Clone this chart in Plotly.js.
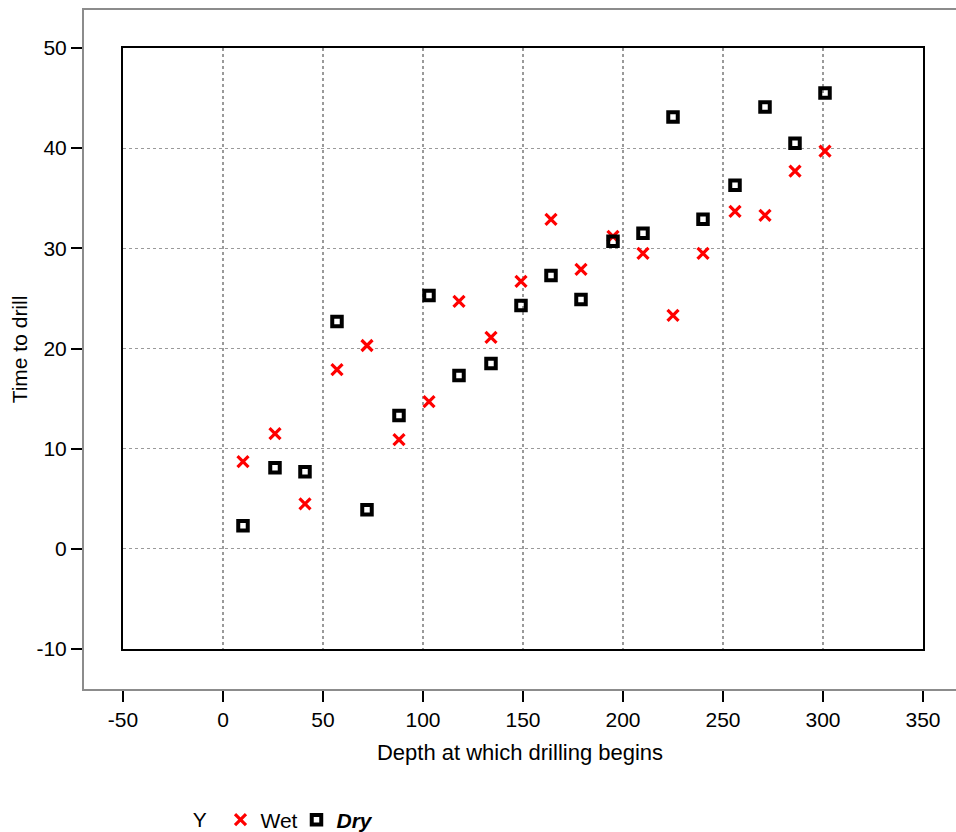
<!DOCTYPE html>
<html>
<head>
<meta charset="utf-8">
<script src="https://cdn.plot.ly/plotly-3.0.1.min.js"></script>
<style>html,body{margin:0;padding:0;background:#fff;}#chart{width:956px;height:832px;}</style>
</head>
<body>
<div id="chart"></div>
<script>
// Depth at which drilling begins
const depth = [10, 26, 41, 57, 72, 88, 103, 118, 134, 149, 164, 179, 195, 210, 225, 240, 256, 271, 286, 301];
// Time to drill (wet)
const wetTime = [8.7, 11.5, 4.5, 17.9, 20.3, 10.9, 14.7, 24.7, 21.1, 26.7, 32.9, 27.9, 31.2, 29.5, 23.3, 29.5, 33.7, 33.3, 37.7, 39.7];
// Time to drill (dry)
const dryTime = [2.3, 8.1, 7.7, 22.7, 3.9, 13.3, 25.3, 17.3, 18.5, 24.3, 27.3, 24.9, 30.7, 31.5, 43.1, 32.9, 36.3, 44.1, 40.5, 45.5];
const xTicks = [-50, 0, 50, 100, 150, 200, 250, 300, 350];
const yTicks = [-10, 0, 10, 20, 30, 40, 50];
const seriesNames = ['Wet', '<b><i>Dry</i></b>'];

const FONT = 'Liberation Sans, Arial, Helvetica, sans-serif';

const traces = [
  {x: [], y: [], xaxis: 'x', yaxis: 'y', type: 'scatter', mode: 'markers', showlegend: false, hoverinfo: 'skip'},
  {
    x: depth, y: wetTime, name: seriesNames[0], type: 'scatter', mode: 'markers',
    xaxis: 'x2', yaxis: 'y2',
    marker: {symbol: 'x-thin', size: 11, color: '#ff0000', line: {color: '#ff0000', width: 3.2}}
  },
  {
    x: depth, y: dryTime, name: seriesNames[1], type: 'scatter', mode: 'markers',
    xaxis: 'x2', yaxis: 'y2',
    marker: {symbol: 'square-open', size: 9.5, color: '#000000', line: {color: '#000000', width: 4}}
  }
];

const layout = {
  width: 956, height: 832,
  margin: {l: 84, r: 0, t: 10, b: 143, autoexpand: false},
  paper_bgcolor: '#ffffff', plot_bgcolor: 'rgba(0,0,0,0)',
  font: {family: FONT, size: 21, color: '#000'},
  showlegend: true,
  xaxis: {
    domain: [0, 1], anchor: 'y', range: [-69.5, 366.5],
    tickmode: 'array', tickvals: xTicks, ticktext: xTicks.map(String),
    ticks: 'outside', ticklen: 11, tickwidth: 2, tickcolor: '#000',
    showline: true, linecolor: '#8c8c8c', linewidth: 2, mirror: true,
    showgrid: false, zeroline: false, automargin: false,
    tickfont: {size: 21},
    title: {text: 'Depth at which drilling begins', font: {size: 22}, standoff: 14}
  },
  yaxis: {
    domain: [0, 1], anchor: 'x', range: [-13.99, 53.79],
    tickmode: 'array', tickvals: yTicks, ticktext: yTicks.map(String),
    ticks: 'outside', ticklen: 11, tickwidth: 2, tickcolor: '#000',
    showline: true, linecolor: '#8c8c8c', linewidth: 2, mirror: false,
    showgrid: false, zeroline: false, automargin: false,
    tickfont: {size: 21},
    title: {text: 'Time to drill', font: {size: 21}, standoff: 3}
  },
  xaxis2: {
    domain: [0.04472, 0.96216], anchor: 'y2', range: [-50, 350],
    tickmode: 'array', tickvals: xTicks, showticklabels: false, ticks: '',
    showgrid: true, gridcolor: '#9a9a9a', griddash: 'dot', gridwidth: 1.2,
    showline: true, linecolor: '#000', linewidth: 2, mirror: true, zeroline: false
  },
  yaxis2: {
    domain: [0.05891, 0.94404], anchor: 'x2', range: [-10, 50],
    tickmode: 'array', tickvals: yTicks, showticklabels: false, ticks: '',
    showgrid: true, gridcolor: '#9a9a9a', griddash: 'dot', gridwidth: 1.2,
    showline: true, linecolor: '#000', linewidth: 2, mirror: true, zeroline: false
  },
  legend: {
    orientation: 'h', x: 0.1223, xanchor: 'left', y: -0.193, yanchor: 'middle',
    title: {text: 'Y\u00a0', side: 'left', font: {size: 21}},
    entrywidth: 31, entrywidthmode: 'pixels',
    font: {size: 21}, bgcolor: 'rgba(0,0,0,0)', itemclick: false
  }
};

Plotly.newPlot('chart', traces, layout, {displayModeBar: false, staticPlot: true});
</script>
</body>
</html>
